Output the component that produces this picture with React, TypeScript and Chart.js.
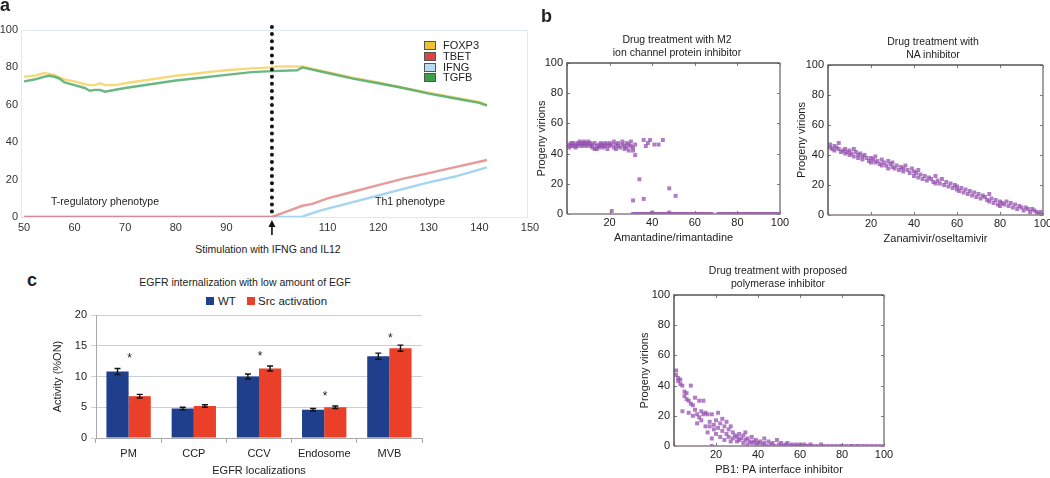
import React, { useEffect, useRef } from "react";
import { Chart, registerables } from "chart.js";

Chart.register(...registerables);

const FONT = '"Liberation Sans", Arial, Helvetica, sans-serif';
Chart.defaults.font.family = FONT;

type Pt = [number, number];

// ---------- Panel a ----------
const STIM_TIME = 99;
const FOXP3: Pt[] = [[50,75],[52,75.5],[54,77],[56,76],[58,73.5],[60,72.5],[62,71],[63,70.5],[64,70.5],[65,71.5],[66,70.5],[68,70.5],[70,71.5],[75,73.5],[80,75.5],[85,77],[88,78],[90,78.5],[95,79.5],[99,80],[100,80.5],[105,80.5],[110,77.5],[115,74.5],[120,72],[125,69],[130,66.5],[135,64],[140,61.5],[141.5,60]];
const TGFB: Pt[] = [[50,72.5],[52,73.5],[54,75],[55,75.5],[56,75],[57,74],[58,72],[60,70.5],[62,69],[63,67.5],[64,68],[65,68],[66,67],[67,67.5],[70,69],[75,71],[80,73],[85,74.5],[90,76],[95,77.5],[99,78],[104,78.5],[105,80],[110,77],[115,74],[120,71.5],[125,69],[130,66],[135,63.5],[140,61],[141.5,59.5]];
const TBET: Pt[] = [[50,0],[99,0],[102,3],[105,6],[107,7],[110,10],[115,13.5],[120,17],[125,20.5],[130,23.5],[135,26.5],[141.5,30.5]];
const IFNG: Pt[] = [[50,0],[99,0],[104.8,0],[108,3],[110,4.5],[115,8],[120,11.5],[125,15],[130,18.5],[135,21.5],[141.5,26.5]];

// ---------- Panel b ----------
const M2_POINTS: Pt[] = [
  [1,46],[1,44],[2,47],[2,45],[3,45],[3,47],[4,46],[4,44],[5,47],[5,45],[6,46],[6,48],[7,45],[7,47],[8,46],[8,48],[9,45],[9,47],[10,46],[10,48],
  [11,45],[11,47],[12,46],[12,44],[13,43],[13,47],[14,45],[14,43],[15,46],[15,44],[16,47],[16,45],[17,46],[17,44],[18,47],[18,45],[19,46],[19,43],[20,47],[20,45],
  [21,46],[22,44],[22,48],[23,46],[23,43],[24,47],[24,45],[25,44],[26,48],[26,46],[27,45],[27,43],[28,47],[28,44],[29,46],[29,42],[30,45],[30,48],[31,44],[31,42],[32,46],[32,39],
  [34,23],[31,9],[36,10],[36,49],[37,45],[38,47],[39,49],[41,46],[43,46],[45,49],[48,17],[51,12],[21,2],[40,1],[48,1],
  [31,0],[32,0],[33,0],[34,0],[35,0],[36,0],[37,0],[38,0],[39,0],[40,0],[41,0],[42,0],[43,0],[44,0],[45,0],[46,0],[47,0],[48,0],[49,0],[50,0],
  [51,0],[52,0],[53,0],[54,0],[55,0],[56,0],[57,0],[58,0],[59,0],[60,0],[61,0],[62,0],[63,0],[64,0],[65,0],[66,0],[67,0],[68,0],[71,0],[72,0],
  [73,0],[74,0],[75,0],[76,0],[77,0],[78,0],[79,0],[80,0],[81,0],[82,0],[83,0],[84,0],[85,0],[86,0],[87,0],[88,0],[89,0],[90,0],[91,0],[92,0],
  [93,0],[94,0],[95,0],[96,0],[97,0],[98,0],[99,0],[100,0]
];
const NA_POINTS: Pt[] = [
  [1,47],[1,45],[2,44],[3,46],[3,43],[4,45],[5,48],[5,44],[6,42],[7,43],[8,41],[8,44],[9,42],[10,43],[10,40],[11,41],[12,44],[12,39],[13,42],[14,40],
  [14,38],[15,41],[16,39],[16,37],[17,40],[18,38],[19,36],[20,38],[20,35],[21,37],[22,39],[22,35],[23,36],[24,34],[25,37],[25,33],[26,35],[27,33],[28,36],[28,31],
  [29,34],[30,32],[30,35],[31,31],[32,33],[33,30],[34,32],[35,29],[35,31],[36,33],[37,30],[38,28],[39,31],[40,29],[40,26],[41,28],[42,30],[42,25],[43,27],[44,24],
  [45,26],[46,23],[47,25],[48,24],[49,22],[50,26],[50,21],[51,23],[52,21],[53,24],[54,20],[55,22],[56,19],[57,21],[58,18],[59,20],[60,17],[60,19],[61,16],[62,18],
  [63,15],[64,17],[65,14],[66,16],[67,13],[68,15],[69,12],[70,14],[71,11],[72,13],[73,12],[74,10],[75,14],[75,9],[76,11],[77,8],[78,10],[79,7],[80,9],[80,6],
  [81,8],[82,7],[83,9],[84,6],[85,8],[86,5],[87,7],[88,4],[89,6],[90,5],[91,3],[92,5],[93,4],[94,2],[95,4],[96,3],[97,2],[98,1],[99,2],[100,0]
];
const PB1_POINTS: Pt[] = [
  [1,50],[1,47],[2,45],[2,43],[3,44],[3,41],[4,40],[4,23],[5,36],[5,33],[6,35],[6,31],[7,30],[7,22],[8,40],[8,28],[9,27],[9,20],[10,32],[10,24],
  [11,15],[11,21],[12,30],[12,19],[13,23],[13,17],[14,21],[14,30],[15,13],[15,22],[16,21],[16,9],[17,16],[17,13],[18,5],[18,21],[19,11],[19,14],[20,17],[20,8],
  [21,22],[21,12],[22,15],[22,6],[23,10],[23,18],[24,13],[24,4],[25,8],[25,16],[26,11],[26,6],[27,13],[27,3],[28,9],[28,5],[29,7],[30,6],[30,3],[31,8],
  [31,4],[32,5],[33,7],[33,2],[34,9],[34,4],[35,5],[35,1],[36,3],[37,6],[37,2],[38,3],[39,1],[39,4],[40,2],[41,3],[42,1],[43,5],[43,2],[44,0],
  [45,3],[46,1],[47,2],[48,0],[49,4],[50,1],[51,2],[52,0],[53,1],[54,2],[55,0],[56,1],[57,0],[58,1],[59,0],[60,1],[61,0],[62,1],[63,0],[64,0],
  [65,1],[66,0],[68,0],[70,1],[71,0],[73,0],[75,0],[77,0],[79,0],[80,0],[82,0],[84,0],[85,0],[87,0],[88,0],[90,0],[92,0],[94,0],[96,0],[98,0],[100,0],[18,0]
];

// ---------- Panel c ----------
const LOCALIZATIONS = ["PM", "CCP", "CCV", "Endosome", "MVB"];
const WT_VALUES = [10.8, 4.8, 10.0, 4.6, 13.3];
const WT_ERRORS = [0.5, 0.2, 0.4, 0.2, 0.5];
const SRC_VALUES = [6.8, 5.2, 11.3, 5.0, 14.6];
const SRC_ERRORS = [0.3, 0.2, 0.4, 0.2, 0.5];
const STAR_LEVELS: (number | null)[] = [13.2, null, 13.5, 7.1, 16.4];

const toXY = (a: Pt[]) => a.map(([x, y]) => ({ x, y }));

function ChartCanvas({ left, top, width, height, make }: any) {
  const ref = useRef<HTMLCanvasElement>(null);
  useEffect(() => {
    const chart = new Chart(ref.current as HTMLCanvasElement, make());
    return () => chart.destroy();
  }, []);
  return (
    <canvas
      ref={ref}
      width={width}
      height={height}
      style={{ position: "absolute", left, top, width, height }}
    />
  );
}

function Text({ x, y, children, size = 11, weight = 400, align = "center", rotate = 0 }: any) {
  const tx = align === "center" ? "-50%" : align === "left" ? "0" : "-100%";
  return (
    <div
      style={{
        position: "absolute",
        left: x,
        top: y,
        transform: `translate(${tx}, -50%) rotate(${rotate}deg)`,
        fontFamily: FONT,
        fontSize: size,
        fontWeight: weight,
        color: "#222",
        whiteSpace: "nowrap",
        textAlign: "center",
        lineHeight: 1.25,
      }}
    >
      {children}
    </div>
  );
}

const tickFont = { size: 11 };

// ---------- Panel a chart ----------
const framePluginA = {
  id: "frameA",
  beforeDatasetsDraw(chart: any) {
    const { ctx, chartArea: { left, top, right, bottom } } = chart;
    ctx.save();
    ctx.strokeStyle = "#e2e8ef";
    ctx.lineWidth = 1;
    ctx.strokeRect(left - 2.5, top + 0.5, right - left, bottom - top);
    ctx.restore();
  },
};
const stimPlugin = {
  id: "stim",
  afterDatasetsDraw(chart: any) {
    const { ctx, chartArea: { top, bottom } } = chart;
    const x = chart.scales.x.getPixelForValue(STIM_TIME);
    ctx.save();
    ctx.strokeStyle = "#111";
    ctx.lineWidth = 4;
    ctx.lineCap = "round";
    ctx.setLineDash([0, 7.1]);
    ctx.beginPath();
    ctx.moveTo(x, top - 3);
    ctx.lineTo(x, bottom + 1);
    ctx.stroke();
    ctx.setLineDash([]);
    ctx.lineWidth = 1.6;
    ctx.lineCap = "butt";
    ctx.beginPath();
    ctx.moveTo(x, bottom + 6);
    ctx.lineTo(x, bottom + 18);
    ctx.stroke();
    ctx.fillStyle = "#111";
    ctx.beginPath();
    ctx.moveTo(x, bottom + 3);
    ctx.lineTo(x - 3.5, bottom + 10);
    ctx.lineTo(x + 3.5, bottom + 10);
    ctx.closePath();
    ctx.fill();
    ctx.restore();
  },
};

const makePanelA = () => ({
  type: "line",
  data: {
    datasets: [
      { label: "TGFB", data: toXY(TGFB), borderColor: "rgba(70,165,100,0.8)", order: 0 },
      { label: "TBET", data: toXY(TBET), borderColor: "rgba(222,120,120,0.75)", order: 1 },
      { label: "FOXP3", data: toXY(FOXP3), borderColor: "rgba(242,205,80,0.75)", order: 2 },
      { label: "IFNG", data: toXY(IFNG), borderColor: "rgba(160,210,240,0.95)", order: 3 },
    ],
  },
  options: {
    responsive: false,
    animation: false,
    devicePixelRatio: 1,
    layout: { padding: { top: 30, right: 15, left: 0, bottom: 0 } },
    plugins: { legend: { display: false }, tooltip: { enabled: false } },
    elements: { point: { radius: 0 }, line: { borderWidth: 2.4, tension: 0 } },
    scales: {
      x: {
        type: "linear",
        min: 50,
        max: 150,
        ticks: {
          stepSize: 10,
          font: tickFont,
          color: "#333",
          padding: 4,
          maxRotation: 0,
          autoSkip: false,
          callback: (v: number) => (v === 100 ? "" : String(v)),
        },
        grid: { display: false, drawTicks: false },
        border: { display: false },
        afterFit: (s: any) => { s.height = 23; },
      },
      y: {
        min: 0,
        max: 100,
        ticks: { stepSize: 20, font: tickFont, color: "#333", padding: 6 },
        grid: { display: false, drawTicks: false },
        border: { display: false },
        afterFit: (s: any) => { s.width = 24; },
      },
    },
  },
  plugins: [framePluginA, stimPlugin],
});

// ---------- Panel b charts ----------
const boxPlugin = {
  id: "box",
  afterDraw(chart: any) {
    const { ctx, chartArea: { left, top, right, bottom } } = chart;
    const xs = chart.scales.x;
    const ys = chart.scales.y;
    ctx.save();
    ctx.strokeStyle = "#777";
    ctx.lineWidth = 1;
    xs.ticks.forEach((t: any) => {
      const px = Math.round(xs.getPixelForValue(t.value)) + 0.5;
      ctx.beginPath();
      ctx.moveTo(px, bottom);
      ctx.lineTo(px, bottom - 3);
      ctx.moveTo(px, top);
      ctx.lineTo(px, top + 3);
      ctx.stroke();
    });
    ys.ticks.forEach((t: any) => {
      const py = Math.round(ys.getPixelForValue(t.value)) + 0.5;
      ctx.beginPath();
      ctx.moveTo(left, py);
      ctx.lineTo(left + 3, py);
      ctx.moveTo(right, py);
      ctx.lineTo(right - 3, py);
      ctx.stroke();
    });
    ctx.lineWidth = 1.5;
    ctx.strokeStyle = "#555";
    ctx.beginPath();
    ctx.moveTo(right, top);
    ctx.lineTo(left, top);
    ctx.lineTo(left, bottom);
    ctx.stroke();
    ctx.strokeStyle = "#8a8088";
    ctx.beginPath();
    ctx.moveTo(left, bottom);
    ctx.lineTo(right, bottom);
    ctx.lineTo(right, top);
    ctx.stroke();
    ctx.restore();
  },
};

const makeScatter = (points: Pt[], xTitle: string, padTop: number, padRight: number, yWidth: number, xHeight: number, xTitlePad: number) => () => ({
  type: "scatter",
  data: {
    datasets: [
      {
        label: "Progeny virions",
        data: toXY(points),
        pointStyle: "rect",
        pointRadius: 2.8,
        borderWidth: 0,
        backgroundColor: "rgba(145,75,175,0.72)",
      },
    ],
  },
  options: {
    responsive: false,
    animation: false,
    devicePixelRatio: 1,
    layout: { padding: { top: padTop, right: padRight, left: 0, bottom: 0 } },
    plugins: { legend: { display: false }, tooltip: { enabled: false } },
    scales: {
      x: {
        type: "linear",
        min: 0,
        max: 100,
        ticks: {
          stepSize: 20,
          font: tickFont,
          color: "#222",
          padding: 2,
          maxRotation: 0,
          callback: (v: number) => (v === 0 ? "" : String(v)),
        },
        grid: { display: false, drawTicks: false },
        border: { display: false },
        title: { display: true, text: xTitle, font: { size: 11 }, color: "#222", padding: { top: 0, bottom: xTitlePad } },
        afterFit: (s: any) => { s.height = xHeight; },
      },
      y: {
        min: 0,
        max: 100,
        ticks: { stepSize: 20, font: tickFont, color: "#222", padding: 4 },
        grid: { display: false, drawTicks: false },
        border: { display: false },
        title: { display: true, text: "Progeny virions", font: { size: 11 }, color: "#222", padding: { top: 5, bottom: 0 } },
        afterFit: (s: any) => { s.width = yWidth; },
      },
    },
  },
  plugins: [boxPlugin],
});

// ---------- Panel c chart ----------
const errorBarPlugin = {
  id: "errbars",
  afterDatasetsDraw(chart: any) {
    const { ctx } = chart;
    const ys = chart.scales.y;
    const xs = chart.scales.x;
    ctx.save();
    ctx.strokeStyle = "#111";
    ctx.lineWidth = 1.4;
    chart.data.datasets.forEach((ds: any, di: number) => {
      const errs = di === 0 ? WT_ERRORS : SRC_ERRORS;
      const meta = chart.getDatasetMeta(di);
      meta.data.forEach((bar: any, i: number) => {
        const x = bar.x;
        const yT = ys.getPixelForValue(ds.data[i] + errs[i]);
        const yB = ys.getPixelForValue(ds.data[i] - errs[i]);
        ctx.beginPath();
        ctx.moveTo(x, yT);
        ctx.lineTo(x, yB);
        ctx.moveTo(x - 3, yT);
        ctx.lineTo(x + 3, yT);
        ctx.moveTo(x - 3, yB);
        ctx.lineTo(x + 3, yB);
        ctx.stroke();
      });
    });
    ctx.fillStyle = "#222";
    ctx.font = `12px ${FONT}`;
    ctx.textAlign = "center";
    ctx.textBaseline = "middle";
    STAR_LEVELS.forEach((lvl, i) => {
      if (lvl === null) return;
      ctx.fillText("*", xs.getPixelForValue(i) + 1, ys.getPixelForValue(lvl) + 2);
    });
    ctx.restore();
  },
};

const makePanelC = () => ({
  type: "bar",
  data: {
    labels: LOCALIZATIONS,
    datasets: [
      { label: "WT", data: WT_VALUES, backgroundColor: "#1f3f8d" },
      { label: "Src activation", data: SRC_VALUES, backgroundColor: "#ea3f28" },
    ],
  },
  options: {
    responsive: false,
    animation: false,
    devicePixelRatio: 1,
    categoryPercentage: 0.68,
    barPercentage: 1,
    layout: { padding: { top: 15, right: 18, left: 0, bottom: 0 } },
    plugins: { legend: { display: false }, tooltip: { enabled: false } },
    scales: {
      x: {
        ticks: { font: { size: 11 }, color: "#222", padding: 4 },
        grid: { display: true, drawOnChartArea: false, drawTicks: true, tickLength: 5, color: "#a8a8a8", offset: true },
        border: { display: true, color: "#a8a8a8" },
        title: { display: true, text: "EGFR localizations", font: { size: 11 }, color: "#222", padding: { top: 0, bottom: 0 } },
        afterFit: (s: any) => { s.height = 40; },
      },
      y: {
        min: 0,
        max: 20,
        ticks: { stepSize: 5, font: { size: 11 }, color: "#222", padding: 4 },
        grid: { color: "#c8d0d8", tickLength: 5 },
        border: { display: true, color: "#a8a8a8" },
        title: { display: true, text: "Activity (%ON)", font: { size: 11 }, color: "#222", padding: { top: 5, bottom: 0 } },
        afterFit: (s: any) => { s.width = 50; },
      },
    },
  },
  plugins: [errorBarPlugin],
});

function LegendSwatch({ x, y, color, border }: any) {
  return (
    <div
      style={{
        position: "absolute",
        left: x,
        top: y,
        width: border ? 10 : 8,
        height: border ? 7 : 8,
        background: color,
        border: border ? "1px solid #555" : "none",
      }}
    />
  );
}

const LEGEND_A = [
  { label: "FOXP3", color: "#f0c232" },
  { label: "TBET", color: "#d94444" },
  { label: "IFNG", color: "#b9dbf2" },
  { label: "TGFB", color: "#3c9e48" },
];

export default function App() {
  return (
    <div
      style={{
        position: "absolute",
        left: 0,
        top: 0,
        width: 1050,
        height: 478,
        overflow: "hidden",
        background: "#fff",
        fontFamily: FONT,
      }}
    >
      {/* Panel a */}
      <ChartCanvas left={0} top={0} width={545} height={240} make={makePanelA} />
      <Text x={0} y={5} size={18} weight={700} align="left">a</Text>
      <Text x={105} y={202} size={10.5}>T-regulatory phenotype</Text>
      <Text x={410} y={202} size={10.5}>Th1 phenotype</Text>
      <Text x={268} y={250} size={10.5}>Stimulation with IFNG and IL12</Text>
      {LEGEND_A.map((e, i) => (
        <React.Fragment key={e.label}>
          <LegendSwatch x={424} y={41 + i * 10.8} color={e.color} border />
          <Text x={443} y={46 + i * 10.8} size={11} align="left">{e.label}</Text>
        </React.Fragment>
      ))}

      {/* Panel b */}
      <Text x={541} y={16} size={18} weight={700} align="left">b</Text>
      <ChartCanvas left={530} top={30} width={265} height={220}
        make={makeScatter(M2_POINTS, "Amantadine/rimantadine", 33, 15, 37, 36, 5)} />
      <Text x={677} y={46} size={10.5}>Drug treatment with M2<br />ion channel protein inhibitor</Text>

      <ChartCanvas left={790} top={30} width={270} height={220}
        make={makeScatter(NA_POINTS, "Zanamivir/oseltamivir", 35, 17, 38, 35, 4)} />
      <Text x={933} y={48} size={10.5}>Drug treatment with<br />NA inhibitor</Text>

      <ChartCanvas left={633} top={260} width={267} height={218}
        make={makeScatter(PB1_POINTS, "PB1: PA interface inhibitor", 35, 16, 41, 32, 1)} />
      <Text x={778} y={277} size={10.5}>Drug treatment with proposed<br />polymerase inhibitor</Text>

      {/* Panel c */}
      <Text x={27} y={280} size={18} weight={700} align="left">c</Text>
      <Text x={245} y={283} size={10.5}>EGFR internalization with low amount of EGF</Text>
      <LegendSwatch x={206} y={297} color="#1f3f8d" />
      <Text x={218} y={301} size={11.5} align="left">WT</Text>
      <LegendSwatch x={247} y={297} color="#ea3f28" />
      <Text x={258} y={301} size={11.5} align="left">Src activation</Text>
      <ChartCanvas left={46} top={300} width={394} height={178} make={makePanelC} />
    </div>
  );
}
